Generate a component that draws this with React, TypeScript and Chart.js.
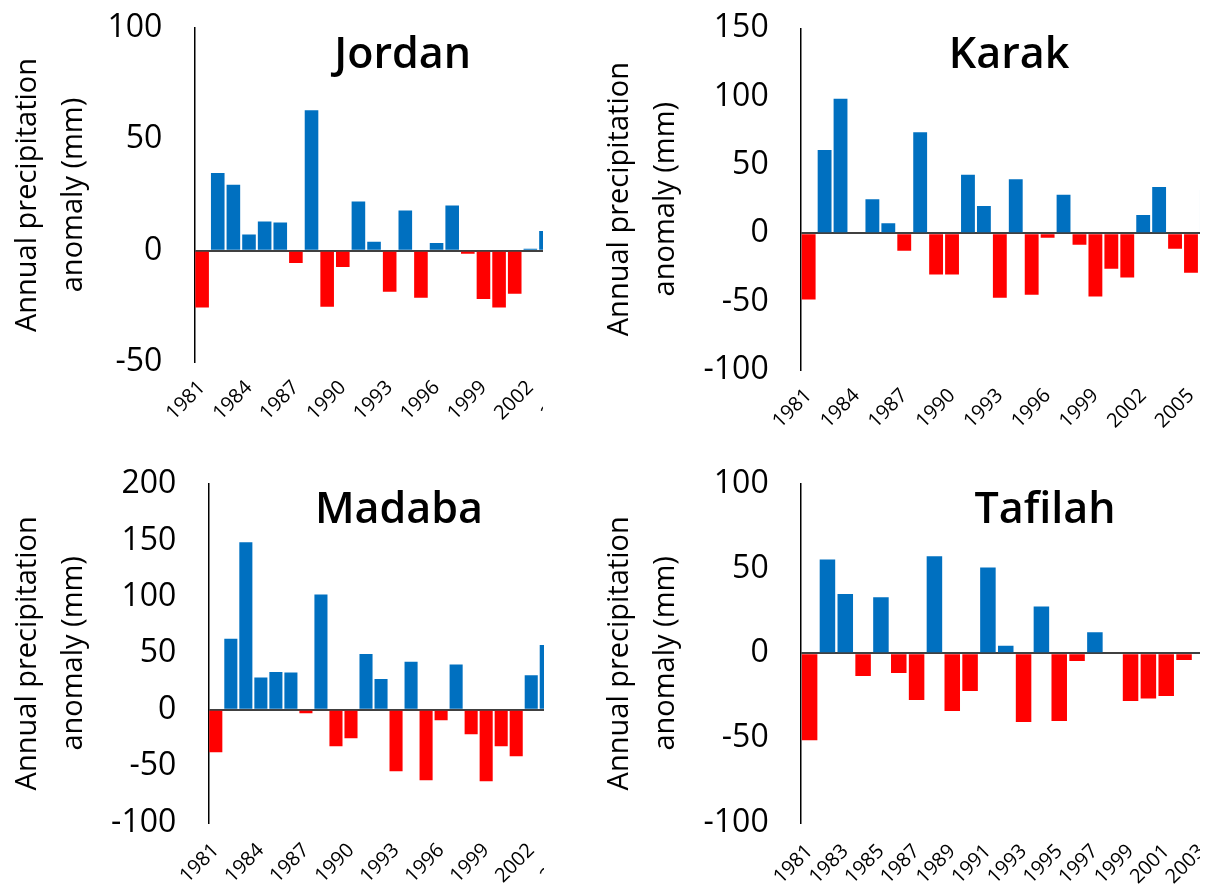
import React, { useEffect, useRef } from 'react';
import { Chart, registerables } from 'chart.js';

Chart.register(...registerables);

// Categories (years)
const YEARS = [
  '1981', '1982', '1983', '1984', '1985', '1986', '1987', '1988', '1989', '1990',
  '1991', '1992', '1993', '1994', '1995', '1996', '1997', '1998', '1999', '2000',
  '2001', '2002', '2003', '2004', '2005', '2006',
];

// Annual precipitation anomaly (mm) per station (null = outside the visible crop)
const JORDAN = [-25.5, 34.9, 29.6, 7.3, 13.1, 12.7, -5.5, 63.1, -25.2, -7.3, 22.1, 4.0, -18.5, 18.0, -21.1, 3.4, 20.3, -1.4, -21.7, -25.5, -19.4, 0.9, 8.8, null, null, null];
const KARAK = [-48.5, 61.0, 98.5, 0, 24.9, 7.3, -12.7, 73.9, -30.2, -30.2, 42.9, 20.0, -47.1, 39.5, -44.9, -3.2, 28.3, -8.3, -46.3, -25.9, -32.4, 13.4, 33.9, -11.2, -28.8, 31.7];
const MADABA = [-37.6, 63.0, 148.5, 28.7, 33.4, 33.1, -3.0, 102.1, -32.2, -25.1, 49.4, 27.2, -54.4, 42.6, -62.4, -9.2, 40.2, -21.6, -63.3, -32.2, -41.1, 30.5, 57.4, null, null, null];
const TAFILAH = [-51.3, 55.4, 35.1, -13.4, 33.1, -11.6, -27.6, 57.4, -34.1, -22.3, 50.7, 4.5, -40.6, 27.6, -40.0, -4.5, 12.4, 0.6, -28.2, -26.6, -25.2, -3.9, 0.6, null, null, null];

// Y-axis ranges (ticks every 50)
const JORDAN_Y = [-50, 100];
const KARAK_Y = [-100, 150];
const MADABA_Y = [-100, 200];
const TAFILAH_Y = [-100, 100];
const Y_STEP = 50;

const Y_TITLE = ['Annual precipitation', 'anomaly (mm)'];
const BLUE = '#0070C0';
const RED = '#FF0000';
const FONT = '"Open Sans", "Segoe UI", sans-serif';

type PanelSpec = {
  title: string;
  values: (number | null)[];
  yRange: number[];
  labelStep: number;
  boxLeft: number;
  boxTop: number;
  boxWidth: number;
  boxHeight: number;
  canvasWidth: number;
  axisX: number;
  catWidth: number;
  plotTop: number;
  plotBottom: number;
  titleX: number;
  titleY: number;
  xPad: number;
};

const panelTitle = {
  id: 'panelTitle',
  afterDraw(chart: any, _args: any, opts: any) {
    const ctx = chart.ctx;
    ctx.save();
    ctx.font = `600 43px ${FONT}`;
    ctx.fillStyle = '#000';
    ctx.textAlign = 'center';
    ctx.textBaseline = 'alphabetic';
    ctx.fillText(opts.text, opts.x, opts.y);
    ctx.restore();
  },
};

const PANELS: PanelSpec[] = [
  {
    title: 'Jordan', values: JORDAN, yRange: JORDAN_Y, labelStep: 3,
    boxLeft: 0, boxTop: 0, boxWidth: 543, boxHeight: 440,
    canvasWidth: 620, axisX: 194.3, catWidth: 15.63, plotTop: 28, plotBottom: 362,
    titleX: 402.7, titleY: 68.3, xPad: 6,
  },
  {
    title: 'Karak', values: KARAK, yRange: KARAK_Y, labelStep: 3,
    boxLeft: 592, boxTop: 0, boxWidth: 608, boxHeight: 440,
    canvasWidth: 640, axisX: 208.7, catWidth: 15.93, plotTop: 28.3, plotBottom: 370,
    titleX: 417, titleY: 68, xPad: 6,
  },
  {
    title: 'Madaba', values: MADABA, yRange: MADABA_Y, labelStep: 3,
    boxLeft: 0, boxTop: 440, boxWidth: 544, boxHeight: 444,
    canvasWidth: 620, axisX: 208.3, catWidth: 15.02, plotTop: 44, plotBottom: 382.7,
    titleX: 399, titleY: 83.3, xPad: 8,
  },
  {
    title: 'Tafilah', values: TAFILAH, yRange: TAFILAH_Y, labelStep: 2,
    boxLeft: 592, boxTop: 440, boxWidth: 608, boxHeight: 444,
    canvasWidth: 690, axisX: 208.7, catWidth: 17.83, plotTop: 44, plotBottom: 382.7,
    titleX: 453, titleY: 83.3, xPad: 9,
  },
];

function Panel({ spec }: { spec: PanelSpec }) {
  const ref = useRef<HTMLCanvasElement | null>(null);

  useEffect(() => {
    const canvas = ref.current;
    if (!canvas) return;
    const n = YEARS.length;
    const padRight = spec.canvasWidth - spec.axisX - n * spec.catWidth;
    const xHeight = spec.boxHeight - spec.plotBottom;
    const chart = new Chart(canvas, {
      type: 'bar',
      data: {
        labels: YEARS,
        datasets: [
          {
            data: spec.values as any,
            backgroundColor: (c: any) => ((c.raw ?? 0) < 0 ? RED : BLUE),
            borderWidth: 0,
            categoryPercentage: 1,
            barPercentage: 0.87,
          },
        ],
      },
      plugins: [panelTitle],
      options: {
        animation: false,
        responsive: false,
        devicePixelRatio: 1,
        layout: { padding: { left: 0, top: spec.plotTop, right: padRight, bottom: 0 } },
        plugins: {
          legend: { display: false },
          tooltip: { enabled: false },
          title: { display: false },
          panelTitle: { text: spec.title, x: spec.titleX, y: spec.titleY },
        } as any,
        scales: {
          x: {
            type: 'category',
            offset: true,
            grid: { display: false },
            border: { display: false },
            afterFit: (s: any) => {
              s.height = xHeight;
              s.paddingLeft = 0;
              s.paddingRight = 0;
            },
            ticks: {
              autoSkip: false,
              maxRotation: 45,
              minRotation: 45,
              padding: spec.xPad,
              color: '#000',
              font: { family: FONT, size: 20, weight: 500 },
              callback: (_v: any, i: number) => (i % spec.labelStep === 0 ? YEARS[i] : ''),
            },
          },
          y: {
            min: spec.yRange[0],
            max: spec.yRange[1],
            afterFit: (s: any) => {
              s.width = spec.axisX;
              s.paddingTop = 0;
              s.paddingBottom = 0;
            },
            grid: {
              drawTicks: false,
              color: (c: any) => (c.tick && c.tick.value === 0 ? '#404040' : 'rgba(0,0,0,0)'),
              lineWidth: 2,
            },
            border: { display: true, color: '#000', width: 1.5 },
            ticks: {
              stepSize: Y_STEP,
              autoSkip: false,
              padding: 32,
              color: '#000',
              font: { family: FONT, size: 32, weight: 500 },
            },
            title: {
              display: true,
              text: Y_TITLE,
              color: '#000',
              font: { family: FONT, size: 29, weight: 500, lineHeight: 1.586 },
              padding: { top: 4.7, bottom: 0 },
            },
          },
        },
      },
    });
    return () => chart.destroy();
  }, [spec]);

  return (
    <div
      style={{
        position: 'absolute',
        left: spec.boxLeft,
        top: spec.boxTop,
        width: spec.boxWidth,
        height: spec.boxHeight,
        overflow: 'hidden',
      }}
    >
      <canvas
        ref={ref}
        width={spec.canvasWidth}
        height={spec.boxHeight}
        style={{ display: 'block', width: spec.canvasWidth, height: spec.boxHeight }}
      />
    </div>
  );
}

export default function App() {
  return (
    <div
      style={{
        position: 'absolute',
        left: 0,
        top: 0,
        width: 1210,
        height: 884,
        overflow: 'hidden',
        background: '#fff',
      }}
    >
      {PANELS.map((p) => (
        <Panel key={p.title} spec={p} />
      ))}
    </div>
  );
}
